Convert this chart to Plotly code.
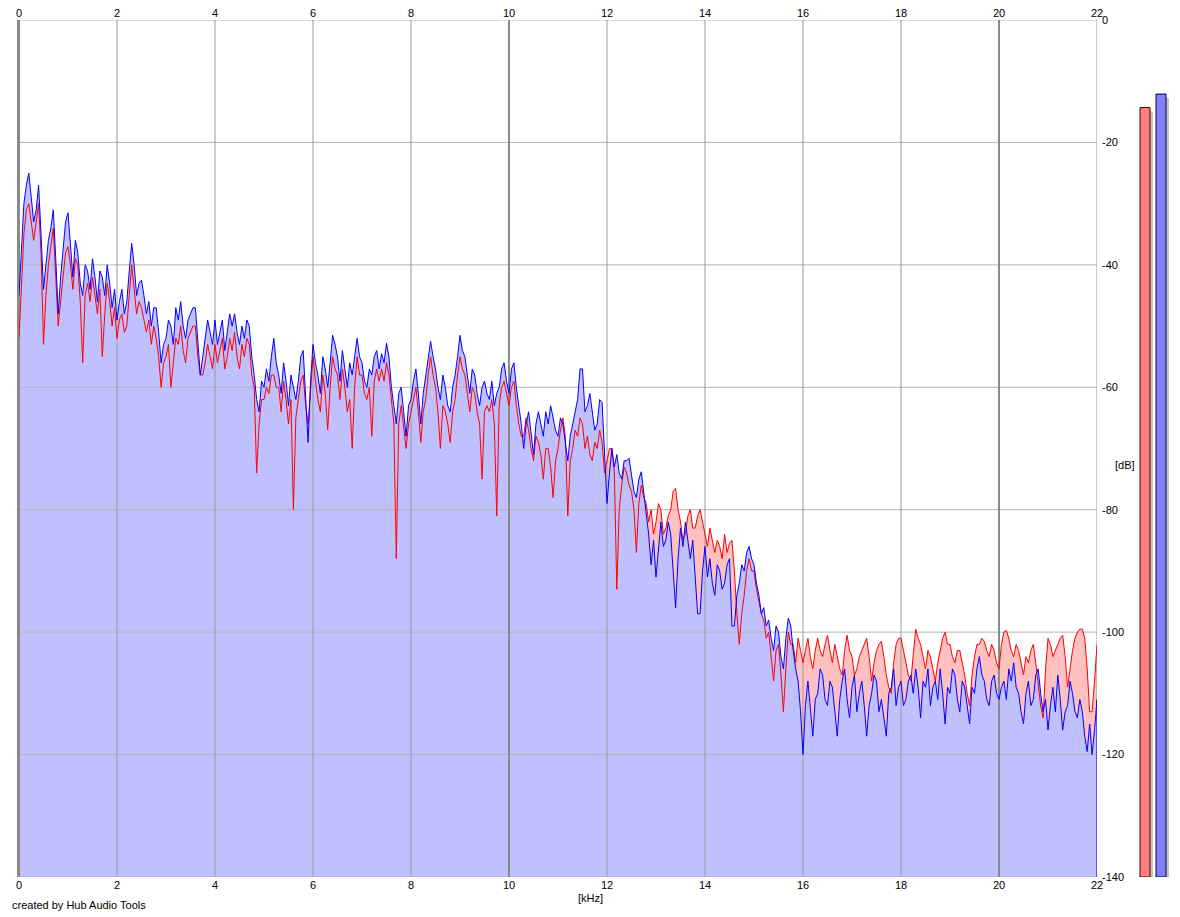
import plotly.graph_objects as go

# ---------------- data ----------------
freq_khz = [round(i * 0.05, 2) for i in range(441)]

blue_db = [
    -45, -38, -30, -27, -25, -29, -33, -31, -27, -35, -44, -40, -36, -34, -31, -39, -48, -42, -38, -33,
    -31.5, -37, -42, -36, -38, -43, -45, -40, -41, -44, -39, -42, -46, -41, -42, -45, -40, -43, -47, -44,
    -49, -46, -44, -48, -46, -41, -36.5, -40, -45, -43, -42.5, -45, -48, -46, -50, -47, -47, -51, -56, -53,
    -52, -49, -50, -53, -47, -49, -46, -50, -52, -49, -48, -47, -47, -53, -58, -55, -52, -49, -51, -53,
    -49, -53, -51, -49, -54, -51, -48, -50, -48, -51, -53, -50, -52, -49, -50, -55, -58, -62, -64, -59,
    -60, -57, -59, -55, -52, -56, -58, -61, -56, -59, -63, -58, -60, -62, -59, -55, -54, -61, -69, -59,
    -53, -56, -58, -61, -55, -57, -60, -56, -51.5, -53, -55, -59, -54, -57, -60, -56, -58, -55, -52, -55,
    -56, -59, -60, -57, -58, -55, -54, -57, -54.5, -56, -52.8, -55, -60, -63, -66, -61, -60, -64, -68, -63,
    -62, -59, -57, -61, -66, -61, -58, -55, -52.5, -55, -57, -60, -62, -58, -60, -63, -64, -60, -58, -55,
    -51.5, -54, -55, -58, -61, -57, -58, -61, -63, -60, -59, -61, -62, -59, -63, -61, -60, -57, -56, -59,
    -61, -57, -56, -60, -63, -66, -70, -66, -64, -68, -71, -66, -64, -66, -68, -64, -66, -63, -65, -67,
    -68, -65, -66, -69, -72, -68, -66, -64, -62, -57, -57, -64, -63, -61, -64, -67, -66, -62, -62.5, -70,
    -79, -74, -70, -73, -71, -74, -75, -72, -72, -71.6, -74, -77, -78, -75, -73.8, -77, -80, -84, -89, -85,
    -91, -86, -82, -86, -85, -82, -84, -90, -96, -88, -83, -86, -82, -85, -88, -85, -92, -97, -97, -90,
    -86, -91, -88, -92, -94, -89, -90, -93, -92, -89, -88, -99, -99, -94, -92, -89, -90, -87, -86, -88,
    -89, -92, -94, -97, -96, -99, -98, -101, -103, -99, -100, -104, -106, -101, -97.7, -99, -103, -106, -108, -113,
    -120, -112, -108, -112, -117, -111, -110, -106, -107, -111, -112, -108, -109, -113, -117, -111, -108, -106, -111, -114,
    -109, -107, -113, -110, -108, -112, -117, -112, -110, -107, -108, -113, -111, -114, -117, -110, -109, -106, -112, -109,
    -108, -112, -111, -108, -107, -110, -106, -109, -114, -108, -109, -106, -112, -109, -108, -111, -106, -110, -115, -109,
    -110, -106, -107, -111, -113, -108, -109, -112, -115, -109, -110, -106, -104, -107, -108, -111, -112, -108, -107, -110,
    -111, -109, -108, -111, -106, -108, -105, -109, -110, -113, -115, -110, -108, -112, -111, -107, -106, -110, -113, -111,
    -116, -112, -109, -113, -107, -111, -116, -113, -112, -108, -110, -113, -114, -111, -113, -117, -119.5, -115, -120, -116,
    -111,
]

red_db = [
    -52, -42, -35, -31, -30, -33, -36, -33, -30, -38, -53, -45, -40, -37, -34, -42, -50, -46, -42, -38,
    -37, -40, -44, -39, -40, -46, -56, -45, -43, -46, -42, -45, -48, -44, -55, -48, -43, -46, -50, -47,
    -52, -49, -48, -51, -50, -45, -40, -44, -48, -46, -47, -49, -51, -49, -53, -50, -52, -55, -60, -56,
    -55, -53, -60, -56, -52, -53, -50, -54, -56, -52, -51, -50, -50, -55, -58, -58, -56, -53, -55, -57,
    -53, -56, -54, -52, -57, -55, -52, -54, -51, -55, -57, -53, -55, -52, -53, -58, -60, -74, -66, -62,
    -62, -60, -61, -58, -58, -60, -60, -64, -59, -62, -66, -62, -80, -65, -62, -59, -58, -63, -66, -61,
    -55, -59, -62, -64, -58, -61, -67, -60, -55, -57, -58, -62, -57, -60, -64, -62, -70, -60, -55, -58,
    -58, -61, -62, -60, -68, -59, -57, -59, -57, -59, -56, -58, -62, -66, -88, -66, -63, -67, -70, -66,
    -64, -62, -60, -64, -69, -64, -62, -58, -55, -58, -60, -64, -70, -63, -64, -66, -69, -64, -62, -58,
    -55, -57, -58, -61, -64, -60, -61, -64, -66, -75, -64, -63, -64, -62, -66, -81, -63, -60, -59, -61,
    -63, -60, -59, -63, -66, -68, -68, -65, -67, -70, -72, -68, -69, -71, -75, -70, -70, -73, -78, -72,
    -70, -67, -65, -68, -81, -72, -70, -67, -68, -65, -66, -70, -68, -71, -72, -69, -70, -67, -69, -74,
    -72, -70, -70, -74, -93, -80, -76, -73, -74, -76, -77, -80, -87, -79, -76, -78, -79, -82, -80, -84,
    -82, -79, -80, -84, -83, -81, -80, -77, -76.5, -80, -82, -85, -84, -81, -80, -83, -83, -81, -80, -82,
    -84, -86, -83, -85, -87, -85, -86, -88, -84, -87, -85.5, -85, -90, -97, -102, -97, -94, -90, -88, -90,
    -90, -93, -95, -97, -98, -101, -100, -104, -108, -103, -102, -107, -113, -106, -100, -102, -102, -105, -101, -103,
    -105, -103, -101, -104, -106, -103, -101, -103, -104, -102, -100.5, -103, -105, -102, -104, -106, -107, -103, -100.5, -103,
    -104, -107, -106, -104, -103, -102, -101, -104, -108, -105, -103, -102, -101.5, -104, -107, -109, -110, -105, -102, -101,
    -101, -103, -105, -107, -108, -103, -99.5, -101, -102, -104, -106, -103, -104, -106, -108, -105, -103, -101, -100, -102,
    -102, -104, -105, -103, -103, -105, -107, -110, -112, -107, -104, -102, -102, -101, -101.5, -103, -104, -102, -103, -105,
    -106, -102, -100, -99.7, -101, -103, -104, -102, -103, -105, -107, -104, -105, -103, -102, -105, -109, -112, -114, -106,
    -101, -102, -104, -103, -102, -101, -100.5, -104, -109, -106, -103, -101, -100, -99.5, -99.5, -101, -106, -113, -113, -108,
    -102,
]

level_names = ["L", "R"]
level_db = [-14.3, -12.1]

x_ticks = list(range(0, 23, 2))
y_ticks = list(range(0, -141, -20))
x_major = [0, 10, 20]

Y_MIN, Y_MAX = -140, 0
X_MIN, X_MAX = 0, 22

assert len(blue_db) == len(freq_khz) == len(red_db)

# ---------------- figure ----------------
FONT = "Liberation Sans, Arial, sans-serif"
fig = go.Figure()

floor = [Y_MIN] * len(freq_khz)

# red fill
fig.add_trace(go.Scatter(x=freq_khz, y=floor, mode="lines", line=dict(width=0),
                         hoverinfo="skip", showlegend=False))
fig.add_trace(go.Scatter(x=freq_khz, y=red_db, mode="lines", line=dict(width=0),
                         fill="tonexty", fillcolor="#ffc0c0",
                         hoverinfo="skip", showlegend=False))
# blue fill
fig.add_trace(go.Scatter(x=freq_khz, y=floor, mode="lines", line=dict(width=0),
                         hoverinfo="skip", showlegend=False))
fig.add_trace(go.Scatter(x=freq_khz, y=blue_db, mode="lines", line=dict(width=0),
                         fill="tonexty", fillcolor="#c0c0ff",
                         hoverinfo="skip", showlegend=False))

# grid lines drawn above fills
hx, hy = [], []
for t in y_ticks:
    hx += [X_MIN, X_MAX, None]
    hy += [t, t, None]
fig.add_trace(go.Scatter(x=hx, y=hy, mode="lines", line=dict(color="#b4b4b4", width=1),
                         hoverinfo="skip", showlegend=False))
vx, vy = [], []
for t in x_ticks:
    if t in x_major:
        continue
    vx += [t, t, None]
    vy += [Y_MIN, Y_MAX, None]
fig.add_trace(go.Scatter(x=vx, y=vy, mode="lines", line=dict(color="#999999", width=1),
                         hoverinfo="skip", showlegend=False))
mx, my = [], []
for t in x_major:
    mx += [t, t, None]
    my += [Y_MIN, Y_MAX, None]
fig.add_trace(go.Scatter(x=mx, y=my, mode="lines", line=dict(color="#8a8a8a", width=2),
                         hoverinfo="skip", showlegend=False))

# lines
fig.add_trace(go.Scatter(x=freq_khz, y=red_db, mode="lines",
                         line=dict(color="#ff0000", width=1), showlegend=False))
fig.add_trace(go.Scatter(x=freq_khz + [freq_khz[-1]], y=blue_db + [Y_MIN], mode="lines",
                         line=dict(color="#0000ff", width=1), showlegend=False,
                         xaxis="x2"))

# level bars (right side)
bar_pos = [15, 31]
bar_col = ["#ff8080", "#8080ff"]
bar_edge = ["#400000", "#000040"]
shadow_drop = 4 / (857 / 140)
fig.add_trace(go.Bar(x=[p + 3 for p in bar_pos], y=[v - Y_MIN - shadow_drop for v in level_db],
                     base=Y_MIN, width=10, marker=dict(color="#c4c4c4", line=dict(width=0)),
                     xaxis="x3", yaxis="y", showlegend=False, hoverinfo="skip"))
fig.add_trace(go.Bar(x=bar_pos, y=[v - Y_MIN for v in level_db], base=Y_MIN, width=10,
                     marker=dict(color=bar_col, line=dict(color=bar_edge, width=1)),
                     text=level_names, textposition="none",
                     xaxis="x3", yaxis="y", showlegend=False))

W, H = 1180, 917
ML, MR, MT, MB = 19, 0, 20, 40
pw = W - ML - MR
ph = H - MT - MB
x_end = (1097 - ML) / pw
x3_start = (1130 - ML) / pw


def px_x(px):
    return (px - ML) / pw


def px_y(py):
    return (H - MB - py) / ph


tickfont = dict(family=FONT, size=11, color="#000000")
fig.update_layout(
    width=W, height=H,
    margin=dict(l=ML, r=MR, t=MT, b=MB, pad=0, autoexpand=False),
    paper_bgcolor="#ffffff", plot_bgcolor="#ffffff",
    barmode="overlay",
    xaxis=dict(domain=[0, x_end], range=[X_MIN, X_MAX], tickvals=x_ticks,
               ticktext=[str(t) for t in x_ticks], showgrid=False, zeroline=False,
               showline=False, ticks="", tickfont=tickfont, anchor="y", automargin=False),
    xaxis2=dict(domain=[0, x_end], range=[X_MIN, X_MAX], tickvals=x_ticks,
                ticktext=[str(t) for t in x_ticks], overlaying="x", side="top",
                showgrid=False, zeroline=False, showline=False, ticks="",
                tickfont=tickfont, anchor="y", automargin=False),
    xaxis3=dict(domain=[x3_start, 1], range=[0, 50], visible=False, anchor="y",
                automargin=False),
    yaxis=dict(range=[Y_MIN, Y_MAX], side="right", tickvals=y_ticks,
               ticktext=[str(t) for t in y_ticks], showgrid=False, zeroline=False,
               showline=False, ticks="", tickfont=tickfont, anchor="x", automargin=False,
               ticklabelstandoff=4),
    shapes=[
        # left frame edge of the plot area (2 px, drawn just outside the clip)
        dict(type="line", xref="paper", yref="paper", x0=px_x(18), x1=px_x(18),
             y0=0, y1=1, line=dict(color="#8a8a8a", width=2), layer="above"),
    ],
    annotations=[
        dict(text="[dB]", x=px_x(1113), y=px_y(465), xref="paper", yref="paper",
             showarrow=False, font=tickfont, xanchor="left", yanchor="middle"),
        dict(text="[kHz]", x=px_x(590), y=px_y(898), xref="paper", yref="paper",
             showarrow=False, font=tickfont, xanchor="center", yanchor="middle"),
        dict(text="created by Hub Audio Tools", x=px_x(10), y=px_y(905), xref="paper",
             yref="paper", showarrow=False, font=tickfont, xanchor="left", yanchor="middle"),
    ],
)

fig.write_html("out.html")
